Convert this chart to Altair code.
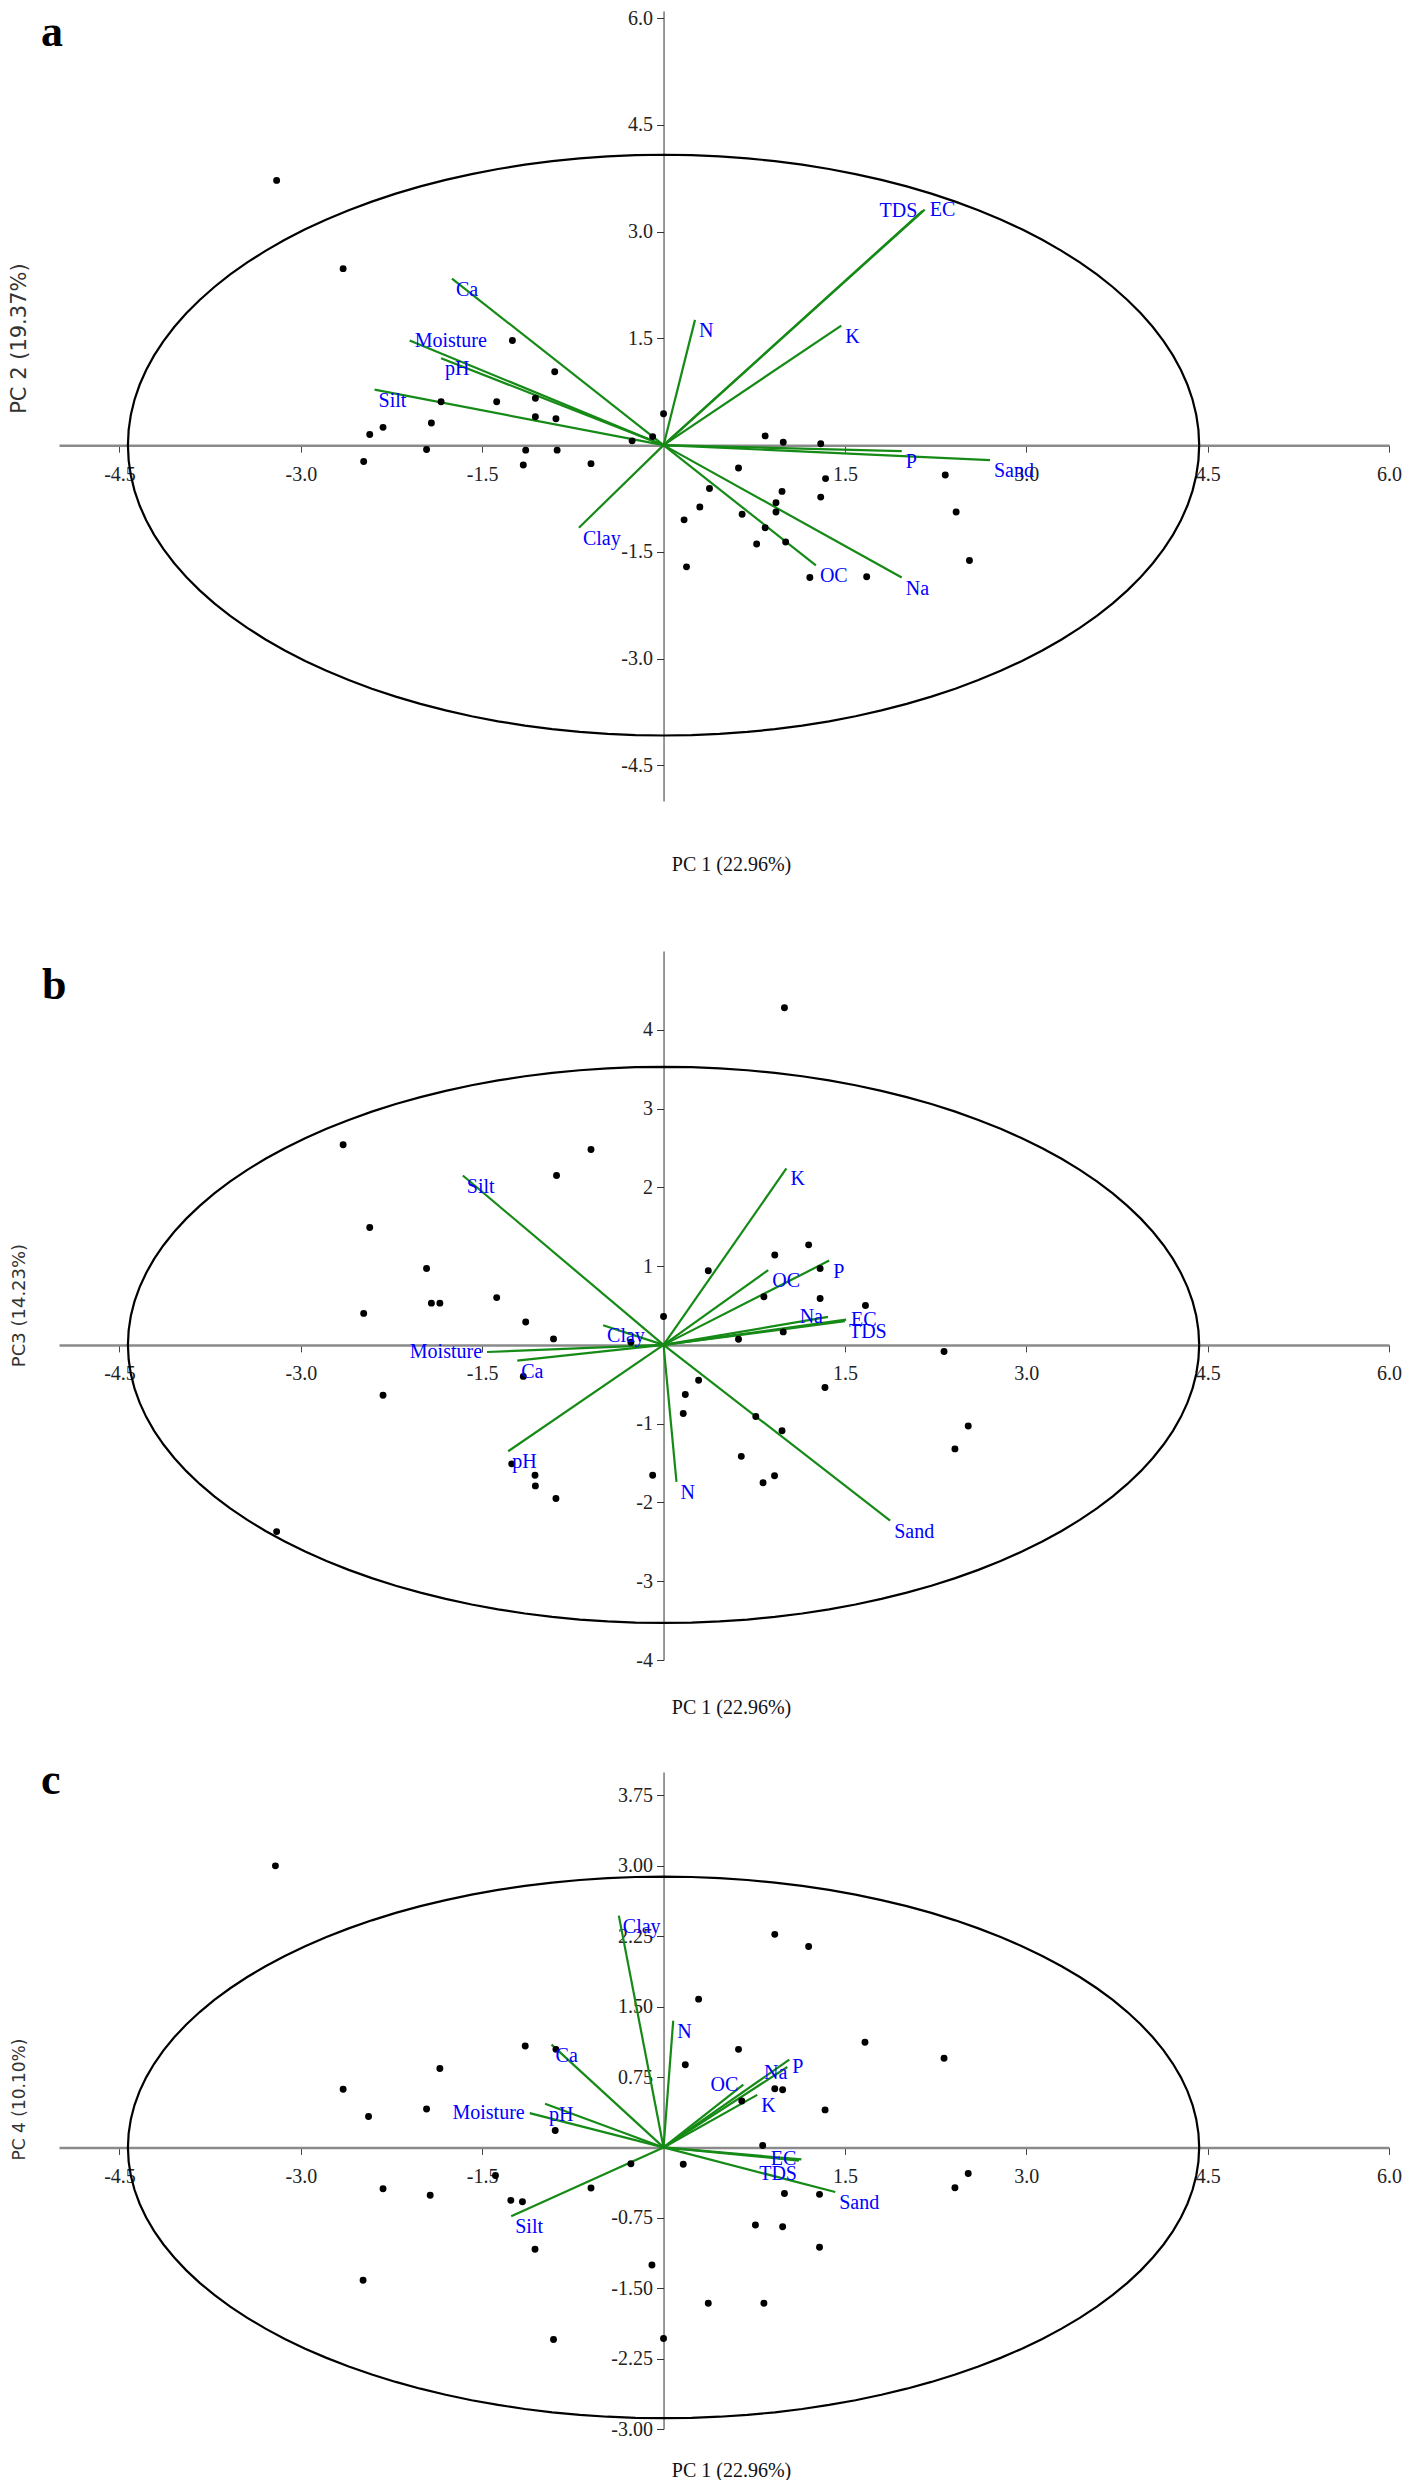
import altair as alt
import pandas as pd

# ---------------- shared values ----------------
x_domain = [-5.0, 6.0]
x_ticks = [-4.5, -3.0, -1.5, 1.5, 3.0, 4.5, 6.0]
pc1_title = "PC 1 (22.96%)"

# ---------------- panel a : PC1 vs PC2 ----------------
a_pc1 = [-3.20, -2.65, -1.25, -0.90, -1.84, -1.38, -1.06, -1.06, -0.89, -1.92,
         -2.32, -2.43, 0.00, -0.09, -0.26, -2.48, -1.96, -1.14, -1.16, -0.88,
         -0.60, 0.84, 0.99, 1.30, 0.62, 1.34, 2.33, 0.38, 0.98, 1.30,
         0.93, 0.30, 0.93, 0.65, 2.42, 0.17, 0.84, 1.01, 0.77, 0.19,
         1.21, 1.68, 2.53]
a_pc2 = [3.72, 2.48, 1.47, 1.03, 0.61, 0.61, 0.66, 0.40, 0.37, 0.31,
         0.25, 0.15, 0.44, 0.12, 0.06, -0.23, -0.06, -0.07, -0.28, -0.07,
         -0.26, 0.13, 0.04, 0.02, -0.32, -0.47, -0.42, -0.61, -0.65, -0.73,
         -0.81, -0.87, -0.94, -0.97, -0.94, -1.05, -1.16, -1.36, -1.39, -1.71,
         -1.86, -1.85, -1.62]
a_vars = ["Ca", "Moisture", "pH", "Silt", "N", "TDS", "EC", "K", "P", "Sand", "OC", "Na", "Clay"]
a_load1 = [-1.75, -2.10, -1.84, -2.39, 0.26, 2.14, 2.16, 1.47, 1.97, 2.70, 1.26, 1.97, -0.70]
a_load2 = [2.34, 1.47, 1.22, 0.78, 1.76, 3.29, 3.31, 1.68, -0.085, -0.21, -1.69, -1.86, -1.16]
a_ellipse = [4.43, 4.08]
a_y_ticks = [-4.5, -3.0, -1.5, 1.5, 3.0, 4.5, 6.0]
a_y_title = "PC 2 (19.37%)"

# ---------------- panel b : PC1 vs PC3 ----------------
b_pc1 = [-2.65, -0.60, -0.885, -2.43, -1.96, -1.92, -1.85, -1.38, -2.48, -1.14,
         -0.91, -0.27, 0.00, -1.16, -2.32, -1.256, -1.063, -1.06, -0.89, -3.20,
         -0.09, 1.00, 0.37, 0.92, 1.20, 1.295, 1.295, 1.67, 0.83, 0.99,
         0.62, 2.32, 2.52, 2.41, 1.335, 0.29, 0.18, 0.163, 0.763, 0.98,
         0.643, 0.918, 0.823]
b_pc3 = [2.54, 2.48, 2.15, 1.49, 0.97, 0.53, 0.53, 0.60, 0.40, 0.29,
         0.076, 0.034, 0.36, -0.40, -0.64, -1.51, -1.655, -1.79, -1.95, -2.37,
         -1.655, 4.28, 0.94, 1.14, 1.27, 0.97, 0.59, 0.50, 0.61, 0.165,
         0.072, -0.084, -1.03, -1.32, -0.54, -0.45, -0.63, -0.87, -0.91, -1.09,
         -1.415, -1.66, -1.75]
b_vars = ["Silt", "Clay", "Moisture", "Ca", "pH", "N", "K", "OC", "P", "Na", "EC", "TDS", "Sand"]
b_load1 = [-1.66, -0.50, -1.46, -1.21, -1.285, 0.107, 1.016, 0.866, 1.37, 1.36, 1.51, 1.50, 1.874]
b_load3 = [2.15, 0.25, -0.09, -0.20, -1.35, -1.74, 2.24, 0.95, 1.07, 0.355, 0.32, 0.30, -2.23]
b_ellipse = [4.43, 3.53]
b_y_ticks = [-4, -3, -2, -1, 1, 2, 3, 4]
b_y_title = "PC3 (14.23%)"

# ---------------- panel c : PC1 vs PC4 ----------------
c_pc1 = [-3.21, -1.144, -0.89, -1.85, -2.65, -1.96, -2.44, -0.896, 0.29, 0.18,
         0.92, 1.20, 1.666, 2.32, 0.62, 0.92, 0.985, 0.647, 1.336, -0.27,
         0.163, -1.39, -2.32, -1.93, -1.263, -1.167, -0.60, -1.063, -0.096, -2.485,
         -0.91, 0.00, 0.82, 2.52, 2.41, 1.00, 1.29, 0.76, 0.985, 1.29,
         0.37, 0.83]
c_pc4 = [3.00, 1.08, 1.045, 0.84, 0.62, 0.41, 0.33, 0.18, 1.58, 0.88,
         2.27, 2.14, 1.12, 0.95, 1.045, 0.625, 0.615, 0.494, 0.40, -0.174,
         -0.18, -0.30, -0.44, -0.51, -0.564, -0.578, -0.433, -1.085, -1.252, -1.415,
         -2.046, -2.035, 0.02, -0.277, -0.43, -0.49, -0.50, -0.826, -0.846, -1.064,
         -1.66, -1.66]
c_vars = ["Clay", "N", "Ca", "pH", "Moisture", "Na", "P", "OC", "K", "EC", "TDS", "Sand", "Silt"]
c_load1 = [-0.37, 0.08, -0.926, -0.98, -1.107, 1.04, 1.024, 0.66, 0.775, 1.14, 1.12, 1.42, -1.26]
c_load4 = [2.47, 1.35, 1.095, 0.466, 0.366, 0.935, 0.857, 0.67, 0.56, -0.128, -0.14, -0.475, -0.734]
c_ellipse = [4.43, 2.885]
c_y_ticks = [-3.0, -2.25, -1.5, -0.75, 0.75, 1.5, 2.25, 3.0, 3.75]
c_y_title = "PC 4 (10.10%)"

# ---------------- styling / layout ----------------
SERIF = "Liberation Serif"
SANS = "DejaVu Sans"
GREEN = "#168a16"
BLUE = "#0000ff"
PLOT_W = 1330
PLOT_LEFT_PAGE = 60
Y_TITLE_PAGE_X = 20
X_TITLE_X = 672

ANCHORS = {
    "ne": dict(align="left", baseline="top", dx=4, dy=1),
    "e": dict(align="left", baseline="middle", dx=5, dy=0),
    "w": dict(align="right", baseline="middle", dx=-5, dy=0),
    "sw": dict(align="right", baseline="top", dx=-2, dy=3),
}
a_anchor = {"TDS": "w", "EC": "e", "Moisture": "e"}
b_anchor = {"Moisture": "w", "Na": "w", "EC": "e"}
c_anchor = {"Moisture": "w", "Na": "sw", "P": "e", "OC": "w", "EC": "w", "TDS": "sw"}


def hyphen_expr(fmt):
    return "replace(format(datum.value, '" + fmt + "'), '\u2212', '-')"


def panel(letter, pts_x, pts_y, names, load_x, load_y, anchor_over, radii,
          y_domain, height, y_ticks, y_fmt, y_title, y_title_size,
          x_title_dy, y_title_page_y, plot_top_page, letter_xy):
    x_scale = alt.Scale(domain=x_domain, nice=False, zero=False)
    y_scale = alt.Scale(domain=y_domain, nice=False, zero=False)
    x0 = PLOT_W * (0 - x_domain[0]) / (x_domain[1] - x_domain[0])
    y0 = height * (y_domain[1] - 0) / (y_domain[1] - y_domain[0])

    x_axis = alt.Axis(values=x_ticks, labelExpr=hyphen_expr(".1f"), orient="bottom",
                      offset=y0 - height,
                      grid=False, domainColor="#8a8a8a", domainWidth=2.5,
                      tickColor="#444444", tickSize=7, tickWidth=1,
                      labelFont=SERIF, labelFontSize=20, labelColor="#222222",
                      labelPadding=12, labelFlush=False, labelOverlap=False,
                      title=pc1_title, titleFont=SERIF, titleFontSize=20,
                      titleFontWeight="normal", titleColor="#111111",
                      titleX=X_TITLE_X, titleY=x_title_dy, titleBaseline="middle",
                      titleAlign="center", titleAngle=0)
    y_axis = alt.Axis(values=y_ticks, labelExpr=hyphen_expr(y_fmt), orient="left",
                      offset=-x0,
                      grid=False, domainColor="#333333", domainWidth=1,
                      tickColor="#333333", tickSize=7, tickWidth=1,
                      labelFont=SERIF, labelFontSize=20, labelColor="#222222",
                      labelPadding=4, labelFlush=False, labelOverlap=False,
                      title=y_title, titleFont=SANS, titleFontSize=y_title_size,
                      titleFontWeight="normal", titleColor="#333333",
                      titleX=Y_TITLE_PAGE_X - PLOT_LEFT_PAGE - x0,
                      titleY=y_title_page_y - plot_top_page,
                      titleBaseline="middle", titleAlign="center", titleAngle=270)

    def X(f):
        return alt.X(f, type="quantitative", scale=x_scale, axis=x_axis)

    def Y(f):
        return alt.Y(f, type="quantitative", scale=y_scale, axis=y_axis)

    pts = pd.DataFrame({"px": pts_x, "py": pts_y})
    vec = pd.DataFrame({"name": names, "lx": load_x, "ly": load_y})
    vec["anchor"] = [anchor_over.get(n, "ne") for n in names]

    ellipse = (
        alt.Chart(alt.sequence(0, 361, 3, as_="t"))
        .transform_calculate(
            ex=f"{radii[0]} * cos(datum.t * PI / 180)",
            ey=f"{radii[1]} * sin(datum.t * PI / 180)",
        )
        .mark_line(color="black", strokeWidth=2.2)
        .encode(x=X("ex"), y=Y("ey"), order=alt.Order("t:Q"))
    )
    rules = (
        alt.Chart(vec)
        .transform_calculate(ox="0", oy="0")
        .mark_rule(color=GREEN, strokeWidth=2.2)
        .encode(x=X("lx"), y=Y("ly"), x2=alt.X2("ox"), y2=alt.Y2("oy"))
    )
    points = (
        alt.Chart(pts)
        .mark_circle(color="black", opacity=1, size=48)
        .encode(x=X("px"), y=Y("py"))
    )
    layers = [ellipse, rules, points]
    for key, st in ANCHORS.items():
        if key not in set(vec["anchor"]):
            continue
        layers.append(
            alt.Chart(vec)
            .transform_filter(f"datum.anchor == '{key}'")
            .mark_text(font=SERIF, fontSize=20, color=BLUE, **st)
            .encode(x=X("lx"), y=Y("ly"), text="name:N")
        )
    layers.append(
        alt.Chart(pd.DataFrame({"t": [letter]}))
        .mark_text(font=SERIF, fontSize=44, fontWeight="bold", color="black",
                   align="left", baseline="alphabetic")
        .encode(x=alt.value(letter_xy[0]), y=alt.value(letter_xy[1]), text="t:N")
    )
    return alt.layer(*layers).properties(width=PLOT_W, height=height)


def spacer(h):
    return (
        alt.Chart(pd.DataFrame({"v": [0]}))
        .mark_point(opacity=0)
        .encode(x=alt.value(0), y=alt.value(0))
        .properties(width=PLOT_W, height=h)
    )


pa = panel("a", a_pc1, a_pc2, a_vars, a_load1, a_load2, a_anchor, a_ellipse,
           [-5.0, 6.1], 790, a_y_ticks, ".1f", a_y_title, 21,
           419, 336, 8.9, (-18, 35))
pb = panel("b", b_pc1, b_pc3, b_vars, b_load1, b_load3, b_anchor, b_ellipse,
           [-4.0, 5.0], 709, b_y_ticks, "d", b_y_title, 18,
           363, 1303, 949, (-17, 48))
pc = panel("c", c_pc1, c_pc4, c_vars, c_load1, c_load4, c_anchor, c_ellipse,
           [-3.0, 4.0], 657, c_y_ticks, ".2f", c_y_title, 17,
           323, 2097, 1770, (-18, 22))

chart = (
    alt.vconcat(pa, spacer(150), pb, spacer(112), pc, spacing=0, bounds="flush")
    .properties(padding=0)
    .configure_view(stroke=None)
)

chart.save("out.html", embed_options={"renderer": "svg", "actions": False})
